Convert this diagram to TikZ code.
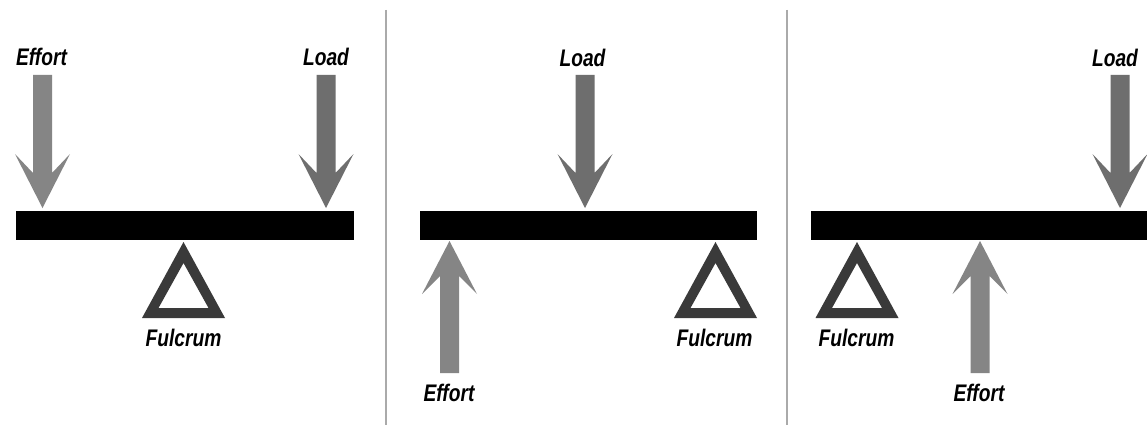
\documentclass[tikz,border=0pt]{standalone}
\usepackage{fontspec}
\newfontfamily\labfont[FakeStretch=0.8]{Liberation Sans}
\definecolor{effortgray}{HTML}{858585}
\definecolor{loadgray}{HTML}{6E6E6E}
\definecolor{fulcgray}{HTML}{3A3A3A}
\definecolor{divgray}{HTML}{AAAAAA}
% down arrow: #1 = x of tip, #2 = y of tip, #3 = y of tail, #4 = colour
\newcommand\downforce[4]{%
  \fill[#4] (#1-9.5,#3) -- (#1+9.5,#3) -- (#1+9.5,#2-35) -- (#1+27.5,#2-54)
    -- (#1,#2) -- (#1-27.5,#2-54) -- (#1-9.5,#2-35) -- cycle;}
\newcommand\upforce[4]{%
  \fill[#4] (#1-9.5,#3) -- (#1+9.5,#3) -- (#1+9.5,#2+35) -- (#1+27.5,#2+53)
    -- (#1,#2) -- (#1-27.5,#2+53) -- (#1-9.5,#2+35) -- cycle;}
% fulcrum: #1 = x of apex
\newcommand\fulcrumtri[1]{%
  \fill[fulcgray,even odd rule] (#1,242) -- (#1+41.5,318) -- (#1-41.5,318) -- cycle
    (#1,263) -- (#1+25,308) -- (#1-25,308) -- cycle;}
\tikzset{
  lab/.style={font=\labfont\bfseries\itshape\fontsize{24}{24}\selectfont, text=black, inner sep=0pt, anchor=base},
  beam/.style={fill=black, draw=none, inner sep=0pt, minimum height=28.5pt, anchor=north west},
  divider/.style={draw=divgray, line width=1.5pt}
}
\begin{document}
\begin{tikzpicture}[x=1pt,y=-1pt]
\useasboundingbox (0,0) rectangle (1147,425);
\fill[white] (0,0) rectangle (1147,425);
% dividers
\coordinate (d1t) at (386,10); \coordinate (d1b) at (386,425);
\coordinate (d2t) at (787,10); \coordinate (d2b) at (787,425);
\draw[divider] (d1t) -- (d1b);
\draw[divider] (d2t) -- (d2b);
% ---------- panel 1 ----------
\node[beam, minimum width=338pt] (beamA) at (16,211) {};
\downforce{42.5}{208}{75}{effortgray}
\downforce{326}{208}{75}{loadgray}
\fulcrumtri{183.5}
\node[lab] (effA) at (41.5,65.5) {Effort};
\node[lab] (loadA) at (326,65.5) {Load};
\node[lab] (fulA) at (183.5,346.5) {Fulcrum};
% ---------- panel 2 ----------
\node[beam, minimum width=337pt] (beamB) at (420,211) {};
\downforce{585}{208}{75}{loadgray}
\upforce{449.5}{241}{373}{effortgray}
\fulcrumtri{715.5}
\node[lab] (loadB) at (582.5,66.5) {Load};
\node[lab] (effB) at (449,401.5) {Effort};
\node[lab] (fulB) at (714.5,346) {Fulcrum};
% ---------- panel 3 ----------
\node[beam, minimum width=336pt] (beamC) at (811,211) {};
\downforce{1120}{208}{75}{loadgray}
\upforce{980}{241}{373}{effortgray}
\fulcrumtri{857}
\node[lab] (loadC) at (1115,66.5) {Load};
\node[lab] (fulC) at (856.5,346) {Fulcrum};
\node[lab] (effC) at (979,401.5) {Effort};
\end{tikzpicture}
\end{document}
